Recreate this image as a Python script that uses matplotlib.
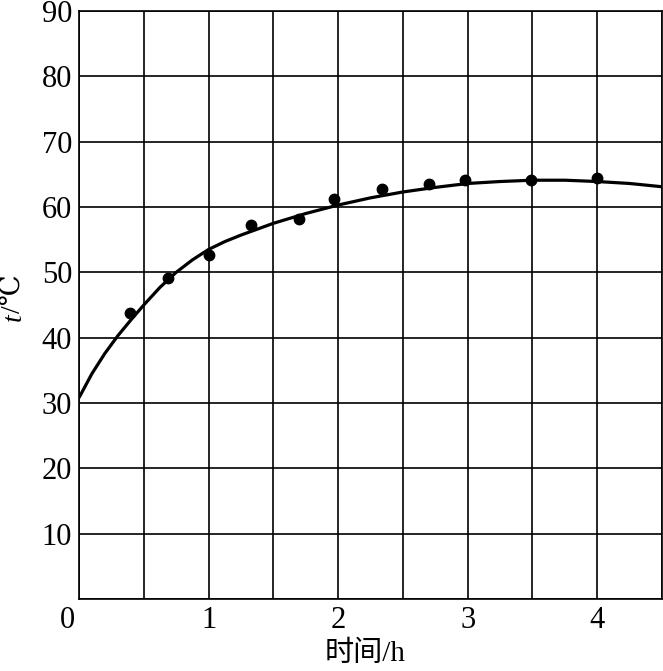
import numpy as np
import matplotlib.pyplot as plt

# measured points (time in h, temperature in degC)
hours = [0.39, 0.69, 1.0, 1.33, 1.70, 1.97, 2.34, 2.70, 2.98, 3.49, 4.0]
temps = [43.8, 49.1, 52.7, 57.3, 58.1, 61.2, 62.7, 63.5, 64.2, 64.1, 64.5]

# fitted curve
curve_x = [0.0, 0.1, 0.2, 0.3, 0.4, 0.5, 0.625, 0.75, 0.875, 1.0, 1.125,
           1.25, 1.5, 1.75, 2.0, 2.25, 2.5, 2.75, 3.0, 3.25, 3.5, 3.75, 4.0,
           4.25, 4.5]
curve_y = [30.8, 34.5, 37.6, 40.3, 42.7, 45.0, 47.7, 50.0, 51.9, 53.5, 54.7,
           55.7, 57.5, 59.0, 60.3, 61.4, 62.3, 63.0, 63.6, 63.9, 64.1, 64.1,
           63.9, 63.6, 63.1]

x_ticks = [0, 0.5, 1, 1.5, 2, 2.5, 3, 3.5, 4, 4.5]
x_labels = ['', '', '1', '', '2', '', '3', '', '4', '']
y_ticks = [0, 10, 20, 30, 40, 50, 60, 70, 80, 90]
y_labels = ['', '10', '20', '30', '40', '50', '60', '70', '80', '90']

plt.rcParams['font.family'] = ['Liberation Serif', 'DejaVu Serif', 'Noto Sans CJK SC']

fig = plt.figure(figsize=(6.63, 6.71), dpi=100)
ax = fig.add_axes([79 / 663, 1 - 599 / 671, 583 / 663, 588 / 671])

ax.plot(curve_x, curve_y, color='black', lw=2.3, solid_capstyle='butt')
ax.plot(hours, temps, 'o', color='black', ms=7.5)

ax.set_xlim(0, 4.5)
ax.set_ylim(0, 90)
ax.set_xticks(x_ticks)
ax.set_xticklabels(x_labels)
ax.set_yticks(y_ticks)
ax.set_yticklabels(y_labels)
ax.tick_params(length=0, labelsize=22, colors='black')
ax.tick_params(axis='x', pad=5)
ax.tick_params(axis='y', pad=5)
ax.grid(True, color='black', lw=1.2)
for s in ax.spines.values():
    s.set_linewidth(1.2)

ax.annotate('0', xy=(0, 0), xytext=(-3, -5), textcoords='offset points',
            ha='right', va='top', fontsize=22)

ax.set_xlabel('时间/h', fontsize=21, labelpad=4,
              family=['Liberation Serif', 'Noto Sans CJK SC'])
ax.xaxis.label.set_x(0.49)

# y label: italic t followed by /℃
t_lbl = fig.text(14 / 663, 1 - 321 / 671, 't', rotation=90, style='italic',
                 fontsize=20, ha='center', va='bottom')
ax.annotate('/℃', xy=(0.5, 1), xycoords=t_lbl, rotation=90, fontsize=20,
            ha='center', va='bottom', family=['Liberation Serif', 'DejaVu Serif'])

plt.savefig('out.png', dpi=100)
